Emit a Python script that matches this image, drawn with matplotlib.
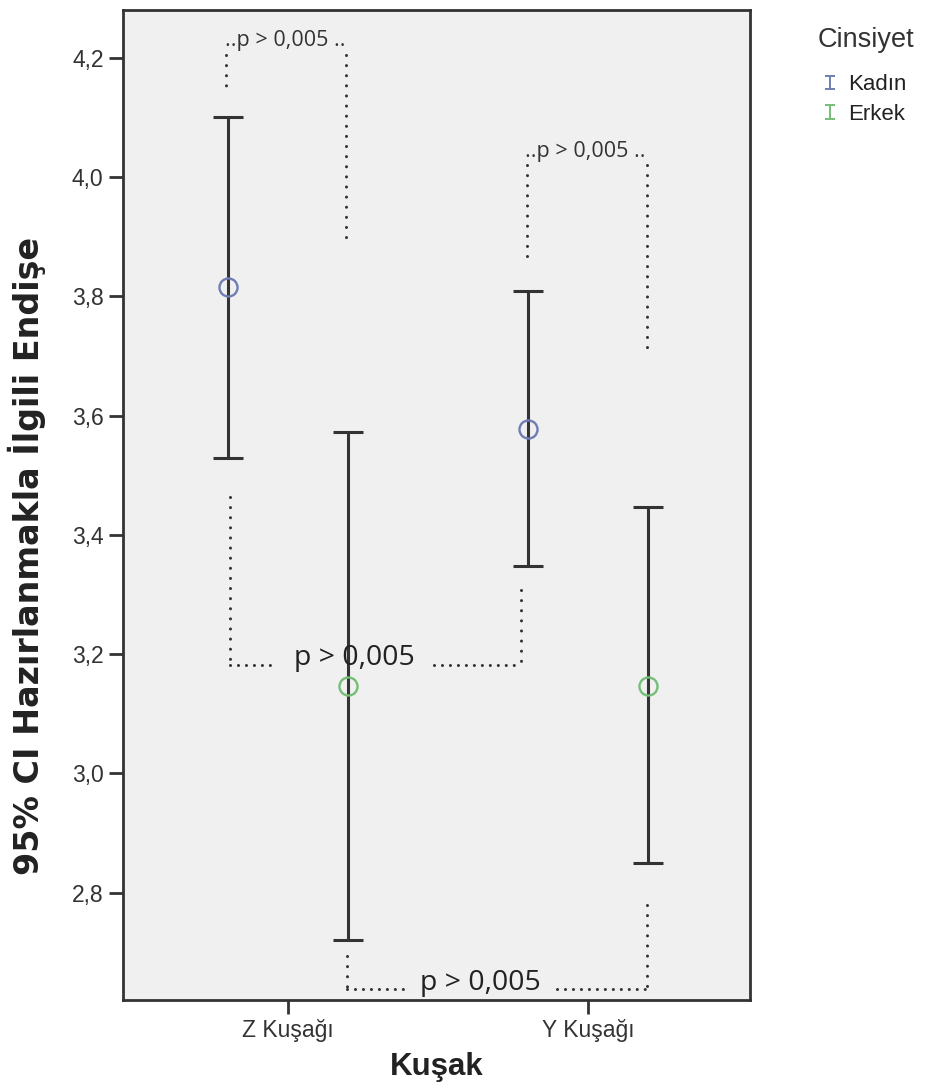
import numpy as np
import matplotlib.pyplot as plt
from matplotlib.legend_handler import HandlerErrorbar

# Group means and 95% CI bounds
groups = ['Z Kuşağı', 'Y Kuşağı']
kadin_mean = [3.816, 3.577]
kadin_low = [3.529, 3.347]
kadin_high = [4.101, 3.808]
erkek_mean = [3.147, 3.147]
erkek_low = [2.721, 2.849]
erkek_high = [3.573, 3.446]

p_text = 'p > 0,005'

KADIN_C = '#6f7db3'
ERKEK_C = '#74bf78'
BAR_C = '#333333'

plt.rcParams['font.family'] = ['Liberation Sans', 'DejaVu Sans']

fig = plt.figure(figsize=(9.27, 10.89), dpi=100)
ax = fig.add_axes([123 / 927, 89 / 1089, 627 / 927, 990 / 1089])
ax.set_facecolor('#f0f0f0')

x = np.arange(len(groups))
off = 0.2


def draw_ci(xs, mean, low, high, color):
    mean = np.array(mean)
    yerr = [mean - np.array(low), np.array(high) - mean]
    ax.errorbar(xs, mean, yerr=yerr, fmt='none', ecolor=BAR_C, elinewidth=2.2,
                capsize=11, capthick=2.2, zorder=3)
    ax.plot(xs, mean, 'o', ms=13, mfc='none', mec=color, mew=1.7, zorder=4)


draw_ci(x - off, kadin_mean, kadin_low, kadin_high, KADIN_C)
draw_ci(x + off, erkek_mean, erkek_low, erkek_high, ERKEK_C)

# dotted brackets for the comparisons
dot = dict(color='#333333', lw=2.2, dash_capstyle='round', zorder=2)
vdots = (0, (0.01, 3.3))
hdots = (0, (0.01, 2.6))
small = dict(ha='center', va='center', fontsize=15.5, family='Open Sans',
             color='#333333')
big = dict(ha='center', va='center', fontsize=20.5, family='Open Sans',
           color='#222222', zorder=5)

# within Z: Kadın vs Erkek
ax.plot([-0.207, -0.207], [4.205, 4.138], ls=vdots, **dot)
ax.plot([0.193, 0.193], [4.205, 3.891], ls=vdots, **dot)
ax.text(-0.008, 4.229, '..' + p_text + ' ..', **small)

# within Y: Kadın vs Erkek
ax.plot([0.797, 0.797], [4.020, 3.851], ls=vdots, **dot)
ax.plot([1.197, 1.197], [4.020, 3.707], ls=vdots, **dot)
ax.text(0.992, 4.043, '..' + p_text + ' ..', **small)

# Kadın: Z vs Y
ax.plot([-0.193, -0.193], [3.464, 3.182], ls=vdots, **dot)
ax.plot([-0.193, -0.04], [3.182, 3.182], ls=hdots, **dot)
ax.plot([0.487, 0.777], [3.182, 3.182], ls=hdots, **dot)
ax.plot([0.777, 0.777], [3.308, 3.182], ls=vdots, **dot)
ax.text(0.22, 3.193, p_text, **big)

# Erkek: Z vs Y
ax.plot([0.197, 0.197], [2.693, 2.638], ls=vdots, **dot)
ax.plot([0.197, 0.383], [2.638, 2.638], ls=hdots, **dot)
ax.plot([0.897, 1.193], [2.638, 2.638], ls=hdots, **dot)
ax.plot([1.197, 1.197], [2.780, 2.638], ls=vdots, **dot)
ax.text(0.64, 2.649, p_text, **big)

ax.set_xlim(-0.55, 1.54)
ax.set_ylim(2.62, 4.28)
ax.set_xticks(x)
ax.set_xticklabels(groups)
yt = np.arange(2.8, 4.21, 0.2)
ax.set_yticks(yt)
ax.set_yticklabels([f'{v:.1f}'.replace('.', ',') for v in yt])
ax.tick_params(length=10, width=2, color='#333333', labelsize=16.5,
               labelcolor='#333333', pad=4)

for s in ax.spines.values():
    s.set_linewidth(2)
    s.set_color('#333333')

ax.set_ylabel('95% CI Hazırlanmakla İlgili Endişe', fontsize=24,
              fontweight='bold', family='DejaVu Sans', color='#222222')
ax.yaxis.set_label_coords(-0.123, 0.449)
ax.set_xlabel('Kuşak', fontsize=22.5, fontweight='bold', color='#222222')
ax.xaxis.set_label_coords(0.5, -0.053)

# legend with error-bar glyphs
hk = ax.errorbar([np.nan], [np.nan], yerr=[1], fmt='none', ecolor=KADIN_C,
                 elinewidth=1.4, capsize=3.5, capthick=1.4)
he = ax.errorbar([np.nan], [np.nan], yerr=[1], fmt='none', ecolor=ERKEK_C,
                 elinewidth=1.4, capsize=3.5, capthick=1.4)
fig.text(866 / 927, 1 - 40 / 1089, 'Cinsiyet', ha='center', va='center',
         fontsize=19.5, color='#333333')
leg = fig.legend(handles=[hk, he], labels=['Kadın', 'Erkek'],
                 loc='upper left', bbox_to_anchor=(824 / 927, 1 - 74 / 1089),
                 frameon=False, fontsize=16, borderpad=0, borderaxespad=0,
                 handlelength=0.5, handletextpad=0.6, labelspacing=0.4,
                 handler_map={type(hk): HandlerErrorbar(xerr_size=0.3)})
for t in leg.get_texts():
    t.set_color('#222222')

fig.savefig('out.png', dpi=100, facecolor='white')
